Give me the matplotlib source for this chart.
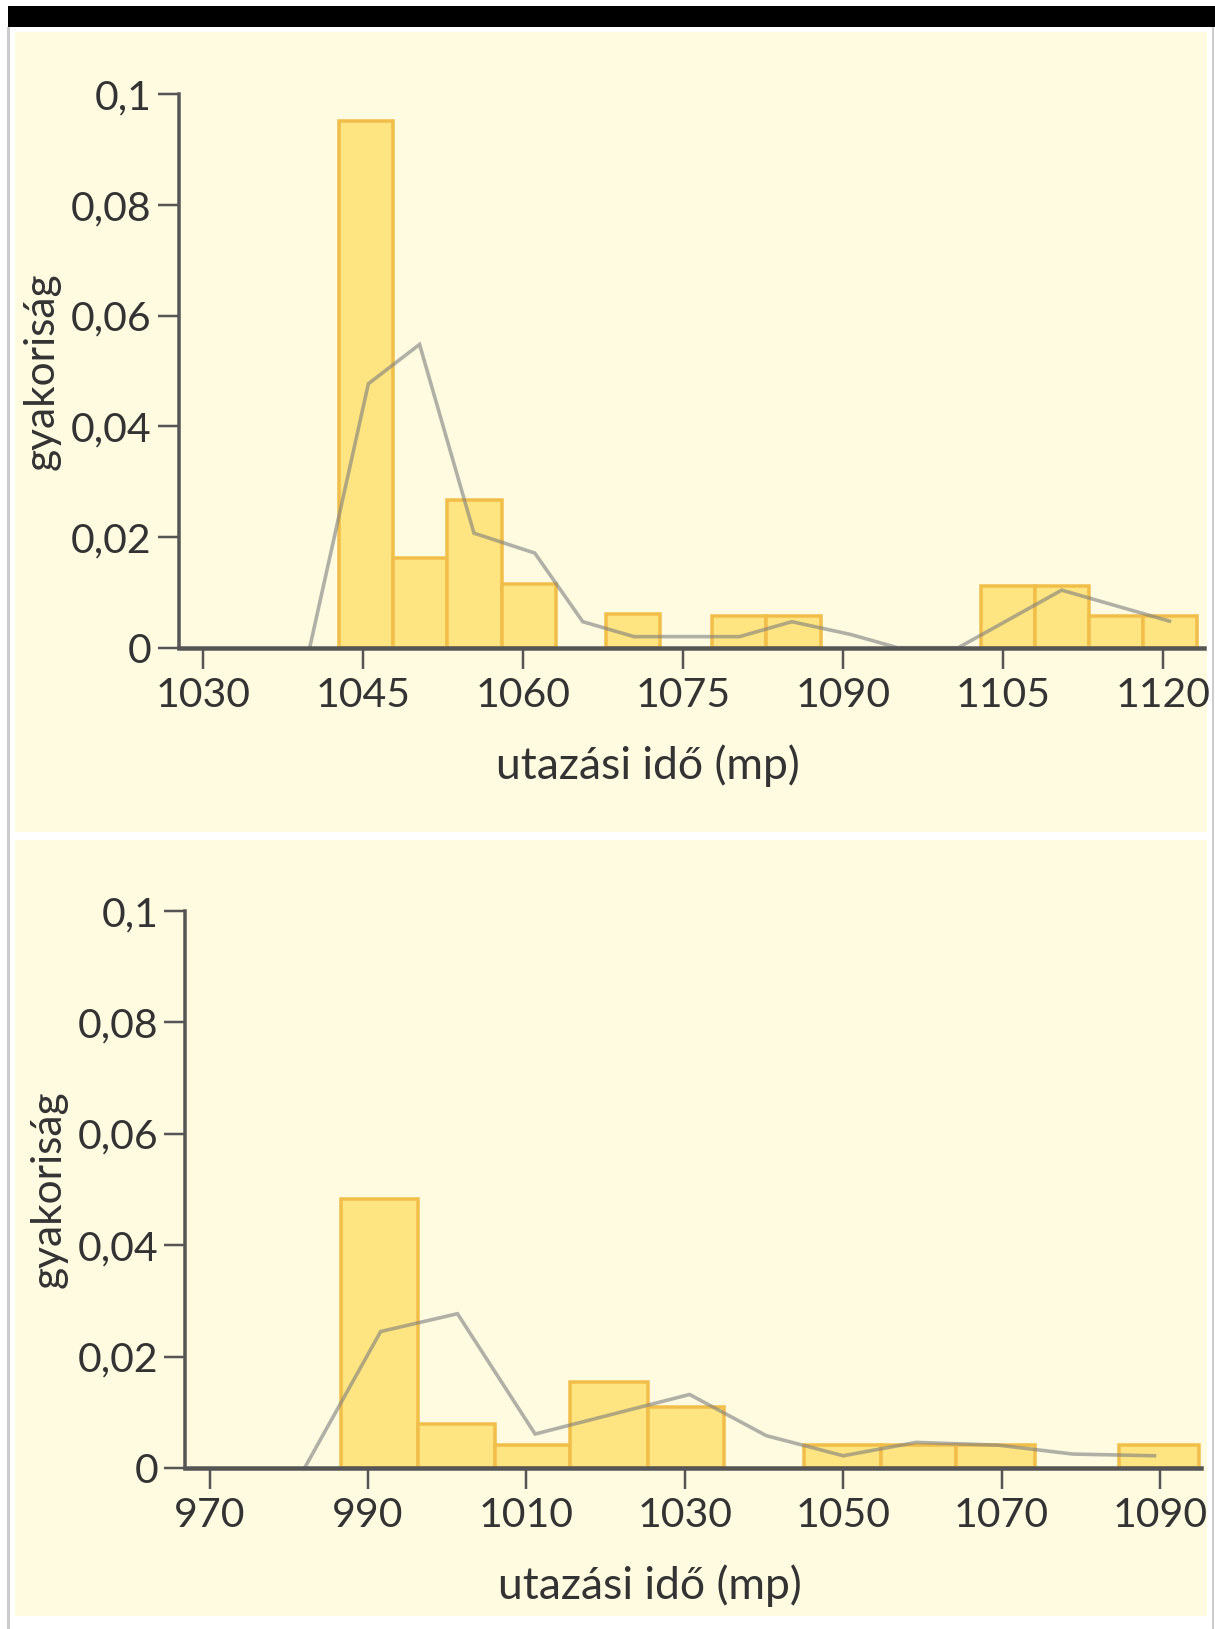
import matplotlib
matplotlib.use("Agg")
import matplotlib.pyplot as plt
from matplotlib.patches import Rectangle

# ---------------- data ----------------
top_edges = [1042.7, 1047.8, 1052.9, 1058.0, 1063.1, 1067.8, 1072.8, 1077.7, 1082.8,
             1087.9, 1092.9, 1098.0, 1102.9, 1108.0, 1113.1, 1118.1, 1123.2]
top_freq = [0.0951, 0.0162, 0.0267, 0.0116, 0.0, 0.0060, 0.0, 0.0057, 0.0057,
            0.0, 0.0, 0.0, 0.0111, 0.0111, 0.0057, 0.0057]
top_line_x = [1040.0, 1045.5, 1050.3, 1055.4, 1061.1, 1065.6, 1070.4, 1080.3,
              1085.2, 1090.7, 1095.1, 1100.8, 1110.5, 1120.6]
top_line_y = [0.0, 0.0477, 0.0548, 0.0207, 0.0171, 0.0047, 0.0020, 0.0020,
              0.0047, 0.0024, 0.0, 0.0, 0.0104, 0.0048]
top_xticks = [1030, 1045, 1060, 1075, 1090, 1105, 1120]

bot_edges = [986.6, 996.3, 1006.0, 1015.5, 1025.3, 1034.9, 1045.1, 1054.8,
             1064.3, 1074.2, 1084.8, 1094.9]
bot_freq = [0.0483, 0.0079, 0.0041, 0.0154, 0.0109, 0.0, 0.0042, 0.0042,
            0.0042, 0.0, 0.0042]
bot_line_x = [982.0, 991.6, 1001.3, 1011.1, 1030.6, 1040.3, 1050.0, 1059.2,
              1069.6, 1079.0, 1089.3]
bot_line_y = [0.0, 0.0245, 0.0277, 0.0061, 0.0132, 0.0058, 0.0022, 0.0046,
              0.0041, 0.0025, 0.0022]
bot_xticks = [970, 990, 1010, 1030, 1050, 1070, 1090]

yticks = [0, 0.02, 0.04, 0.06, 0.08, 0.1]
ytick_labels = ["0", "0,02", "0,04", "0,06", "0,08", "0,1"]
xlabel = "utazási idő (mp)"
ylabel = "gyakoriság"

# ---------------- style ----------------
W, H = 1215, 1629
DPI = 100
FONT = ["Lato", "DejaVu Sans"]
plt.rcParams["font.family"] = FONT

BG = "#fefbe1"
BAR_FILL = "#fee581"
BAR_EDGE = "#f2be4a"
AX_COL = "#555555"
TXT_COL = "#333333"
PX = 72.0 / DPI  # points per pixel

fig = plt.figure(figsize=(W / DPI, H / DPI), dpi=DPI, facecolor="white")


def fig_rect(x0, y0, x1, y1, color):
    fig.patches.append(Rectangle((x0 / W, 1 - y1 / H), (x1 - x0) / W, (y1 - y0) / H,
                                 transform=fig.transFigure, facecolor=color,
                                 edgecolor="none", zorder=-10))


# frame elements
fig_rect(8, 6, 1215, 27, "black")
fig_rect(7, 27, 10, 1629, "#cccccc")
fig_rect(1212, 27, 1214, 1629, "#cccccc")
fig_rect(15, 32, 1207, 832, BG)
fig_rect(15, 840, 1207, 1616, BG)


def make_panel(ax_px, xlim, edges, freq, lx, ly, xticks, xlabel_pos, ylabel_pos):
    left, right, top, bottom = ax_px
    ax = fig.add_axes([left / W, 1 - bottom / H, (right - left) / W, (bottom - top) / H])
    ax.set_zorder(5)
    ax.set_facecolor("none")
    ax.set_xlim(*xlim)
    ax.set_ylim(0, 0.1)

    lefts = [edges[i] for i in range(len(freq)) if freq[i] > 0]
    widths = [edges[i + 1] - edges[i] for i in range(len(freq)) if freq[i] > 0]
    heights = [f for f in freq if f > 0]
    ax.bar(lefts, heights, width=widths, align="edge", color=BAR_FILL,
           edgecolor=BAR_EDGE, linewidth=3.5 * PX, zorder=2)
    ax.plot(lx, ly, color="#7f7f7f", alpha=0.6, linewidth=3.6 * PX, zorder=3,
            solid_joinstyle="miter")

    for s in ["top", "right"]:
        ax.spines[s].set_visible(False)
    ax.spines["bottom"].set_linewidth(4.5 * PX)
    ax.spines["left"].set_linewidth(3.5 * PX)
    for s in ["bottom", "left"]:
        ax.spines[s].set_color(AX_COL)
        ax.spines[s].set_zorder(4)

    ax.set_xticks(xticks)
    ax.set_xticklabels([str(t) for t in xticks])
    ax.set_yticks(yticks)
    ax.set_yticklabels(ytick_labels)
    ax.tick_params(axis="both", colors=AX_COL, width=2.5 * PX, length=21 * PX,
                   labelcolor=TXT_COL, labelsize=29.5)
    ax.tick_params(axis="x", pad=8 * PX)
    ax.tick_params(axis="y", pad=6 * PX)

    fig.text(xlabel_pos[0] / W, 1 - xlabel_pos[1] / H, xlabel, ha="center", va="center",
             fontsize=32, color=TXT_COL)
    fig.text(ylabel_pos[0] / W, 1 - ylabel_pos[1] / H, ylabel, ha="center", va="center",
             rotation=90, fontsize=30.5, color=TXT_COL)
    return ax


make_panel((178.5, 1204, 94.3, 647.7), (1027.7, 1123.84), top_edges, top_freq,
           top_line_x, top_line_y, top_xticks, (648, 766), (42, 371))
make_panel((185.3, 1201.5, 911, 1468), (966.94, 1095.23), bot_edges, bot_freq,
           bot_line_x, bot_line_y, bot_xticks, (650, 1586), (49, 1189))

fig.savefig("out.png", dpi=DPI, facecolor="white")
